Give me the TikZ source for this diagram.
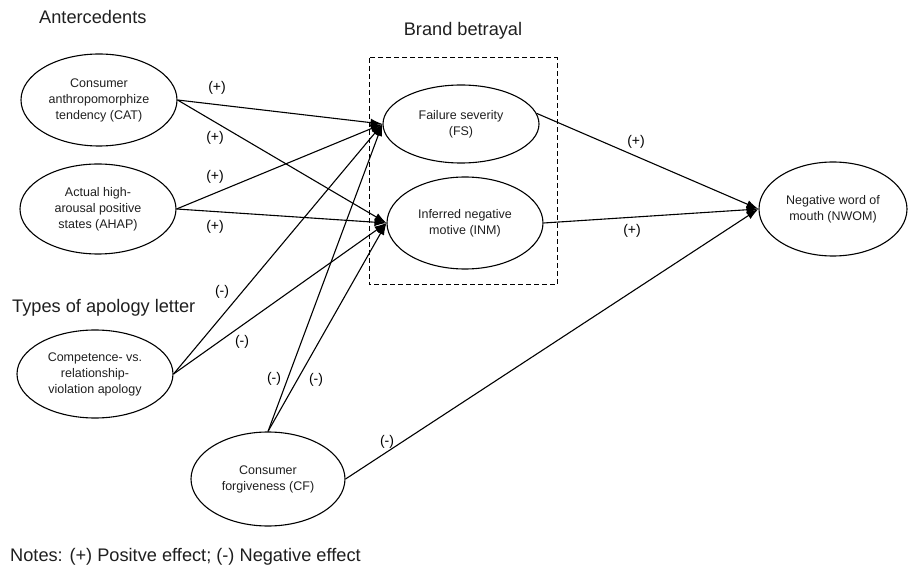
\documentclass[tikz,border=0pt]{standalone}
\usepackage{fontspec}
\setmainfont{Liberation Sans}
\usetikzlibrary{shapes.geometric,arrows.meta}
\tikzset{
  var/.style={draw, ellipse, line width=1.1pt, inner sep=0pt, align=center,
    font=\fontsize{12.5}{16}\selectfont, text=black!88},
  lab/.style={font=\fontsize{14}{16}\selectfont, inner sep=0pt},
  ttl/.style={font=\fontsize{18.2}{22}\selectfont, inner sep=0pt, text=black!88},
  arr/.style={line width=1.1pt, -{Latex[length=12pt,width=8pt]}},
}
\begin{document}
\begin{tikzpicture}[x=1pt,y=-1pt]
\useasboundingbox (0,0) rectangle (908,569);
% titles
\node[ttl, anchor=west] (t1) at (39,17) {Antercedents};
\node[ttl] (t2) at (463,31) {Brand betrayal};
\node[ttl, anchor=west] (t3) at (12,308) {Types of apology letter};
\node[ttl, anchor=west] (t4) at (10,557) {Notes: (+) Positve effect; (-) Negative effect};
% dashed box
\draw[line width=1pt, dash pattern=on 5pt off 3pt] (369,58) rectangle (557,285);
% nodes
\node[var, minimum width=156pt, minimum height=92pt] (CAT) at (99,100) {Consumer\\anthropomorphize\\tendency (CAT)};
\node[var, minimum width=156pt, minimum height=90pt] (AHAP) at (98,209) {Actual high-\\arousal positive\\states (AHAP)};
\node[var, minimum width=156pt, minimum height=88pt] (CVR) at (95,374) {Competence- vs.\\relationship-\\violation apology};
\node[var, minimum width=154pt, minimum height=94pt] (CF) at (268,479) {Consumer\\forgiveness (CF)};
\node[var, minimum width=156pt, minimum height=78pt] (FS) at (461,124) {Failure severity\\(FS)};
\node[var, minimum width=156pt, minimum height=92pt] (INM) at (465,223) {Inferred negative\\motive (INM)};
\node[var, minimum width=148pt, minimum height=94pt] (NWOM) at (833,209) {Negative word of\\mouth (NWOM)};
% connectors
\draw[arr] (CAT.east) -- (FS.west);
\draw[arr] (CAT.east) -- (INM.west);
\draw[arr] (AHAP.east) -- (FS.west);
\draw[arr] (AHAP.east) -- (INM.west);
\draw[arr] (CVR.east) -- (FS.west);
\draw[arr] (CVR.east) -- (INM.west);
\draw[arr] (CF.north) -- (FS.west);
\draw[arr] (CF.north) -- (INM.west);
\draw[arr] (FS.8) -- (NWOM.west);
\draw[arr] (INM.east) -- (NWOM.west);
\draw[arr] (CF.east) -- (NWOM.west);
% labels
\node[lab] (l1) at (217,88) {(+)};
\node[lab] (l2) at (215,138) {(+)};
\node[lab] (l3) at (215,177) {(+)};
\node[lab] (l4) at (215,227) {(+)};
\node[lab] (l5) at (222,292) {(-)};
\node[lab] (l6) at (242,342) {(-)};
\node[lab] (l7) at (274,379) {(-)};
\node[lab] (l8) at (316,380) {(-)};
\node[lab] (l9) at (636,142) {(+)};
\node[lab] (l10) at (632,231) {(+)};
\node[lab] (l11) at (387,442) {(-)};
\end{tikzpicture}
\end{document}
